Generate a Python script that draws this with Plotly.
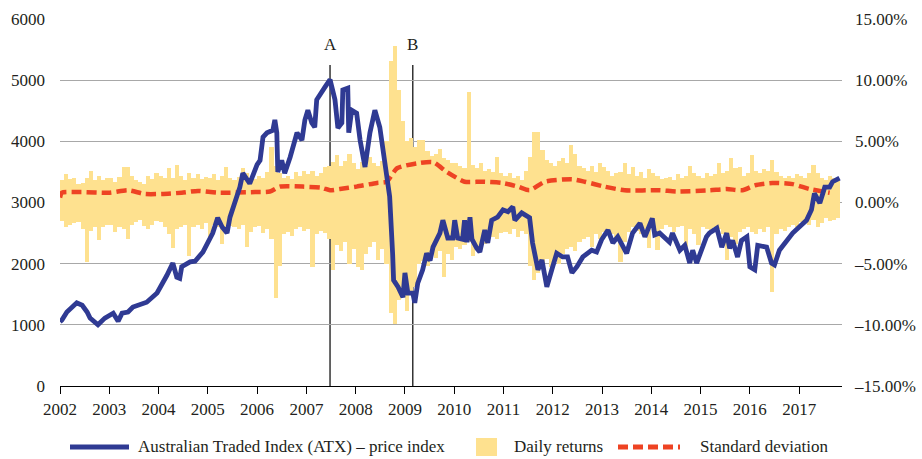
import plotly.graph_objects as go

# ---------------- data ----------------
# ATX price index (left axis), decimal years
idx_x = [2002.00, 2002.04, 2002.14, 2002.24, 2002.34, 2002.45, 2002.55, 2002.61, 2002.77, 2002.91,
         2003.08, 2003.18, 2003.26, 2003.38, 2003.48, 2003.76, 2003.97, 2004.17, 2004.29, 2004.37,
         2004.43, 2004.47, 2004.64, 2004.74, 2004.90, 2005.10, 2005.20, 2005.29, 2005.39, 2005.45,
         2005.65, 2005.71, 2005.85, 2006.00, 2006.06, 2006.12, 2006.20, 2006.32, 2006.36, 2006.40,
         2006.42, 2006.50, 2006.56, 2006.67, 2006.81, 2006.91, 2006.97, 2007.03, 2007.11, 2007.17,
         2007.21, 2007.38, 2007.48, 2007.58, 2007.64, 2007.72, 2007.74, 2007.84, 2007.86, 2007.92,
         2008.02, 2008.09, 2008.19, 2008.29, 2008.39, 2008.49, 2008.59, 2008.69, 2008.75, 2008.77,
         2008.86, 2008.96, 2009.00, 2009.06, 2009.16, 2009.20, 2009.26, 2009.36, 2009.44, 2009.51,
         2009.57, 2009.71, 2009.77, 2009.87, 2009.97, 2010.01, 2010.07, 2010.17, 2010.21, 2010.26,
         2010.32, 2010.36, 2010.46, 2010.52, 2010.62, 2010.68, 2010.76, 2010.88, 2010.99, 2011.09,
         2011.19, 2011.23, 2011.37, 2011.53, 2011.59, 2011.70, 2011.78, 2011.88, 2011.98, 2012.08,
         2012.20, 2012.30, 2012.39, 2012.49, 2012.61, 2012.79, 2012.89, 2012.99, 2013.12, 2013.22,
         2013.32, 2013.50, 2013.62, 2013.77, 2013.87, 2013.94, 2014.02, 2014.07, 2014.17, 2014.37,
         2014.43, 2014.58, 2014.68, 2014.78, 2014.84, 2014.92, 2015.02, 2015.12, 2015.18, 2015.33,
         2015.43, 2015.53, 2015.59, 2015.65, 2015.75, 2015.83, 2015.94, 2016.00, 2016.10, 2016.16,
         2016.34, 2016.44, 2016.50, 2016.60, 2016.87, 2017.15, 2017.25, 2017.31, 2017.42, 2017.52,
         2017.62, 2017.68, 2017.82]
idx_v = [1050, 1080, 1210, 1290, 1360, 1320, 1210, 1110, 1000, 1110,
         1190, 1060, 1190, 1210, 1290, 1370, 1520, 1810, 2010, 1780,
         1760, 1950, 2030, 2040, 2190, 2500, 2750, 2600, 2500, 2760,
         3250, 3480, 3310, 3620, 3690, 4070, 4140, 4180, 4350, 4140,
         3500, 3690, 3480, 3740, 4140, 4020, 4350, 4510, 4300, 4230,
         4680, 4890, 5010, 4680, 4220, 4300, 4840, 4870, 4140, 4510,
         4460, 4020, 3580, 4140, 4510, 4230, 3690, 3100, 2170, 1730,
         1620, 1450, 1850, 1520, 1520, 1360, 1680, 1900, 2170, 2050,
         2270, 2500, 2710, 2420, 2420, 2710, 2420, 2400, 2710, 2350,
         2760, 2400, 2250, 2190, 2550, 2340, 2710, 2760, 2880, 2850,
         2930, 2710, 2830, 2750, 2340, 1900, 2060, 1620, 1900, 2170,
         2110, 2110, 1850, 1950, 2110, 2220, 2190, 2390, 2550, 2340,
         2440, 2170, 2500, 2660, 2440, 2600, 2740, 2470, 2500, 2350,
         2500, 2220, 2300, 2010, 2220, 2010, 2220, 2440, 2500, 2580,
         2270, 2500, 2250, 2380, 2110, 2380, 2440, 1950, 1900, 2300,
         2270, 2010, 1980, 2220, 2500, 2710, 2880, 3150, 2990, 3250,
         3250, 3340, 3400]

# Daily returns envelope (right axis, %), monthly Jan 2002 - Oct 2017
ret_up = [
    1.8, 2.3, 1.9, 2.0, 1.5, 1.6, 2.0, 2.6, 1.8, 2.2, 1.8, 2.0,   # 2002
    2.0, 1.7, 2.1, 2.9, 2.9, 2.2, 1.8, 1.7, 1.5, 2.2, 1.9, 2.4,   # 2003
    2.2, 2.0, 2.8, 2.0, 3.1, 2.2, 1.8, 2.4, 2.0, 2.3, 1.9, 2.1,   # 2004
    2.0, 2.3, 1.8, 2.2, 2.9, 2.0, 1.8, 2.1, 2.8, 2.4, 2.0, 1.9,   # 2005
    2.2, 2.0, 2.5, 4.5, 3.0, 2.4, 2.0, 2.2, 1.9, 2.5, 2.2, 2.6,   # 2006
    2.3, 2.6, 2.2, 2.4, 2.9, 3.0, 3.3, 3.9, 3.0, 3.4, 4.0, 3.2,   # 2007
    2.7, 3.3, 3.0, 3.7, 3.2, 3.0, 3.4, 5.0, 11.6, 12.8, 9.2, 6.7,  # 2008
    5.0, 5.3, 4.5, 5.1, 5.1, 4.2, 3.8, 4.0, 4.4, 3.6, 3.5, 3.2,   # 2009
    3.2, 3.0, 2.8, 9.0, 3.1, 2.8, 3.2, 2.6, 2.7, 2.5, 3.7, 2.4,   # 2010
    2.2, 2.4, 2.0, 2.2, 1.8, 2.6, 3.7, 5.8, 5.8, 4.3, 3.5, 3.2,   # 2011
    3.0, 3.4, 3.6, 3.2, 4.7, 4.0, 3.0, 2.8, 2.6, 3.0, 2.5, 3.2,   # 2012
    2.9, 2.6, 2.2, 2.4, 2.5, 3.2, 2.3, 2.9, 2.2, 2.5, 2.0, 2.7,   # 2013
    2.4, 2.2, 1.9, 2.0, 2.1, 1.8, 2.3, 2.0, 2.2, 3.0, 2.4, 2.2,   # 2014
    2.0, 2.4, 2.2, 2.3, 3.2, 2.4, 2.6, 3.6, 2.8, 2.9, 2.2, 2.4,   # 2015
    3.9, 2.6, 2.4, 2.7, 2.6, 3.5, 2.5, 2.2, 2.0, 2.2, 2.0, 2.3,   # 2016
    2.2, 2.0, 2.4, 3.1, 2.4, 2.0, 1.8, 2.2, 2.0, 1.9,             # 2017
]
ret_down = [
    -1.5, -2.0, -1.8, -1.7, -1.6, -2.2, -4.9, -2.3, -2.0, -3.1, -2.0, -1.8,   # 2002
    -1.8, -2.4, -2.0, -2.2, -3.0, -1.8, -1.6, -1.4, -1.9, -2.2, -1.8, -1.5,   # 2003
    -1.6, -2.0, -2.6, -3.7, -2.2, -2.0, -1.8, -4.4, -2.0, -1.8, -2.2, -1.7,   # 2004
    -2.9, -1.8, -2.0, -3.4, -2.2, -1.9, -2.0, -2.2, -1.8, -3.6, -2.4, -2.0,   # 2005
    -1.9, -2.5, -2.2, -3.0, -7.8, -5.2, -2.6, -2.4, -2.7, -2.2, -2.0, -2.3,   # 2006
    -2.2, -5.3, -2.6, -2.3, -2.5, -3.0, -5.5, -3.5, -4.0, -3.2, -5.0, -3.8,   # 2007
    -5.3, -5.5, -4.2, -3.6, -3.2, -4.7, -3.8, -5.0, -9.0, -9.9, -8.0, -7.5,   # 2008
    -8.9, -7.5, -6.9, -5.0, -4.8, -5.2, -4.2, -4.5, -4.0, -6.1, -4.2, -4.7,   # 2009
    -3.6, -3.8, -3.5, -3.2, -4.4, -3.8, -3.6, -3.4, -3.0, -2.8, -3.0, -2.5,   # 2010
    -2.4, -2.6, -2.2, -2.8, -2.3, -2.6, -5.2, -6.3, -5.8, -5.2, -4.6, -5.3,   # 2011
    -4.8, -5.0, -4.2, -3.8, -3.6, -4.0, -3.2, -3.0, -2.8, -3.6, -2.6, -3.0,   # 2012
    -2.4, -2.2, -2.6, -3.0, -4.9, -3.2, -2.4, -2.0, -2.3, -2.6, -2.2, -3.7,   # 2013
    -2.0, -3.9, -2.2, -1.8, -2.0, -2.4, -2.0, -1.9, -3.6, -2.2, -2.6, -3.5,   # 2014
    -2.0, -2.2, -2.4, -2.0, -2.2, -2.6, -4.7, -2.8, -3.4, -2.4, -2.2, -2.0,   # 2015
    -2.4, -2.6, -2.2, -2.4, -2.0, -7.3, -2.6, -2.2, -2.3, -2.0, -1.8, -2.0,   # 2016
    -1.6, -1.5, -1.8, -1.4, -2.0, -1.7, -1.3, -1.5, -1.4, -1.3,               # 2017
]

# Standard deviation (right axis, %)
std_x = [2002.00, 2002.04, 2002.41, 2003.01, 2003.38, 2003.72, 2004.07, 2004.47, 2004.80, 2005.20,
         2005.96, 2006.26, 2006.46, 2006.93, 2007.31, 2007.48, 2007.68, 2008.02, 2008.43, 2008.63,
         2008.84, 2009.24, 2009.57, 2009.85, 2010.21, 2010.56, 2010.97, 2011.29, 2011.53, 2011.84,
         2012.39, 2012.65, 2013.05, 2013.46, 2014.17, 2014.52, 2015.18, 2015.53, 2015.85, 2016.10,
         2016.46, 2016.87, 2017.21, 2017.62]
std_v = [0.4, 0.8, 0.85, 0.8, 1.0, 0.7, 0.7, 0.8, 0.95, 0.8,
         0.85, 0.9, 1.3, 1.3, 1.2, 1.0, 1.1, 1.3, 1.6, 1.7,
         2.8, 3.2, 3.3, 2.5, 1.7, 1.7, 1.6, 1.3, 1.0, 1.7,
         1.9, 1.7, 1.3, 1.0, 1.0, 0.9, 1.0, 1.1, 1.0, 1.4,
         1.6, 1.5, 1.1, 0.8]

years = list(range(2002, 2018))
year_labels = [str(y) for y in years]
left_ticks = [0, 1000, 2000, 3000, 4000, 5000, 6000]
right_ticks = [-15, -10, -5, 0, 5, 10, 15]
events = ["A", "B"]
event_x = [2007.48, 2009.16]

series_names = ["Australian Traded Index (ATX) – price index", "Daily returns", "Standard deviation"]

# ---------------- styling ----------------
BLUE = "#2F3A93"
YELLOW = "#FEE18F"
RED = "#EE4323"
FONT = "Liberation Serif"
TXT = "#231F20"

month_x = [2002 + (m + 0.5) / 12 for m in range(len(ret_up))]

fig = go.Figure()
fig.add_trace(go.Bar(x=month_x, y=ret_up, width=1 / 12, marker=dict(color=YELLOW, line=dict(width=0)),
                     yaxis="y", showlegend=False, name=series_names[1]))
fig.add_trace(go.Bar(x=month_x, y=ret_down, width=1 / 12, marker=dict(color=YELLOW, line=dict(width=0)),
                     yaxis="y", showlegend=False, name=series_names[1]))
fig.add_trace(go.Scatter(x=std_x, y=std_v, mode="lines", yaxis="y",
                         line=dict(color=RED, width=4.5, dash="10px,5px", shape="spline", smoothing=0.6),
                         showlegend=False, name=series_names[2]))
fig.add_trace(go.Scatter(x=idx_x, y=idx_v, mode="lines", yaxis="y2",
                         line=dict(color=BLUE, width=4.8), showlegend=False, name=series_names[0]))

L, R, T, B = 60, 80, 19, 73
W, H = 922, 459
PW, PH = W - L - R, H - T - B


def px_x(p):
    return (p - L) / PW


def px_y(p):
    return (H - B - p) / PH


shapes = []
annotations = []
for lab, ex in zip(events, event_x):
    shapes.append(dict(type="line", xref="x", yref="y2", x0=ex, x1=ex, y0=0, y1=5250,
                       line=dict(color="black", width=1.2), layer="below"))
    annotations.append(dict(x=ex, y=5590, xref="x", yref="y2", text=lab, showarrow=False,
                            font=dict(family=FONT, size=17, color=TXT)))

# custom legend
ly = px_y(447)
shapes.append(dict(type="line", xref="paper", yref="paper", x0=px_x(70), x1=px_x(129), y0=ly, y1=ly,
                   line=dict(color=BLUE, width=5)))
shapes.append(dict(type="rect", xref="paper", yref="paper", x0=px_x(476), x1=px_x(497),
                   y0=px_y(456), y1=px_y(438), line=dict(width=0), fillcolor=YELLOW))
shapes.append(dict(type="line", xref="paper", yref="paper", x0=px_x(618), x1=px_x(680), y0=ly, y1=ly,
                   line=dict(color=RED, width=5, dash="10px,5px")))
for txt, xp in zip(series_names, [136, 512, 698]):
    annotations.append(dict(x=px_x(xp), y=ly, xref="paper", yref="paper", text=txt, showarrow=False,
                            xanchor="left", yanchor="middle", font=dict(family=FONT, size=17, color=TXT)))

fig.update_layout(
    width=W, height=H, autosize=False,
    margin=dict(l=L, r=R, t=T, b=B, pad=0, autoexpand=False),
    paper_bgcolor="white", plot_bgcolor="white",
    barmode="overlay", bargap=0,
    showlegend=False,
    font=dict(family=FONT, size=17, color=TXT),
    xaxis=dict(range=[2002, 2017.87], tickvals=years, ticktext=year_labels,
               showline=True, linecolor="black", linewidth=1.3, ticks="outside", ticklen=7,
               tickcolor="black", tickwidth=1.2, showgrid=False, zeroline=False, automargin=False,
               tickfont=dict(family=FONT, size=17, color=TXT)),
    yaxis=dict(range=[-15, 15], tickvals=right_ticks, side="right",
               ticktext=[("–" if v < 0 else "") + f"{abs(v):.2f}%" for v in right_ticks],
               showgrid=True, gridcolor="#A8A8A8", gridwidth=1.3, zeroline=False, automargin=False,
               showline=False, ticks="", ticklabelstandoff=12,
               tickfont=dict(family=FONT, size=17, color=TXT)),
    yaxis2=dict(range=[0, 6000], tickvals=left_ticks, side="left", overlaying="y",
                showgrid=False, zeroline=False, showline=False, ticks="", ticklabelstandoff=14,
                automargin=False, tickfont=dict(family=FONT, size=17, color=TXT)),
    shapes=shapes,
    annotations=annotations,
)

fig.write_html("out.html", config={"responsive": False, "displayModeBar": False},
               post_script="document.body.style.margin='0px';document.body.style.padding='0px';")
